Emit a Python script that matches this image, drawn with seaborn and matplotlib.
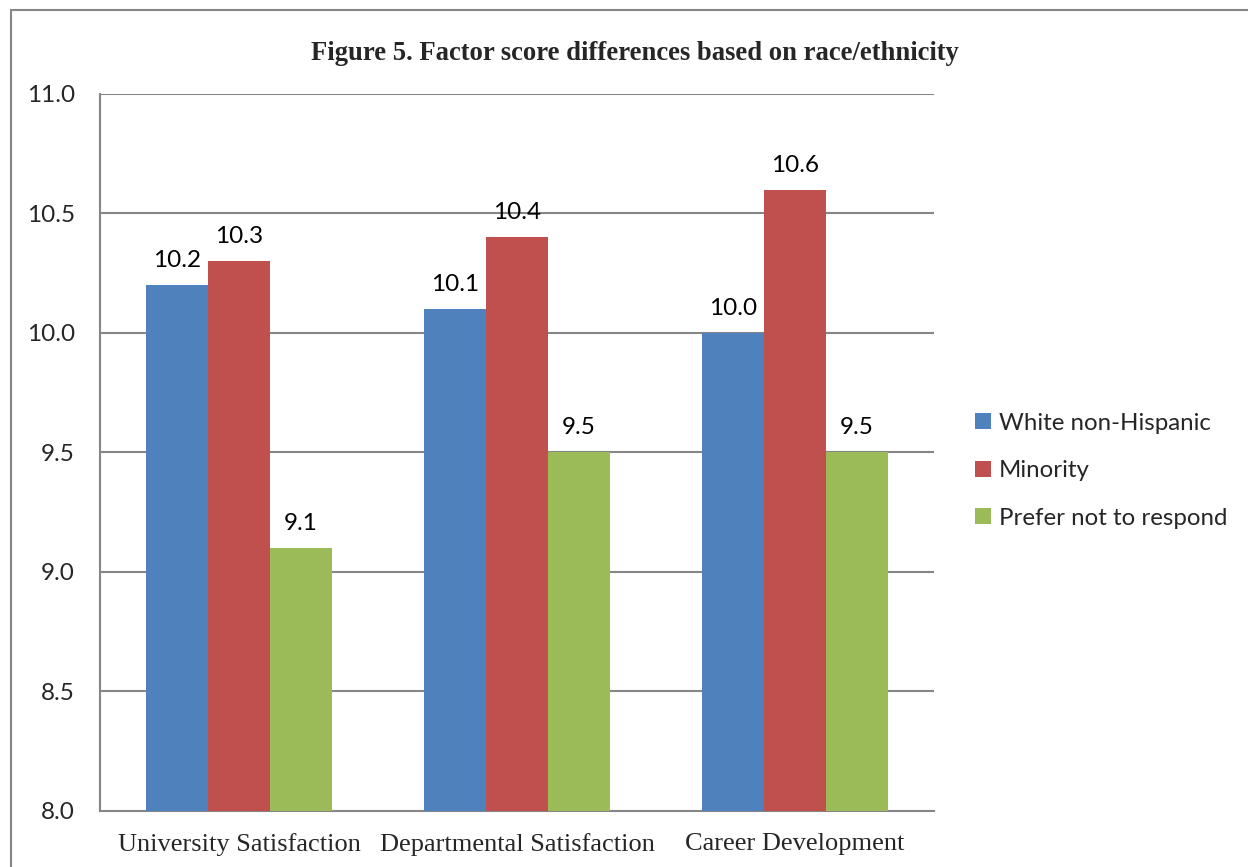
import matplotlib
matplotlib.use("Agg")
import matplotlib.pyplot as plt
import seaborn as sns
import pandas as pd
from matplotlib.lines import Line2D
from matplotlib.patches import Patch

categories = ["University Satisfaction", "Departmental Satisfaction", "Career Development"]
groups = ["White non-Hispanic", "Minority", "Prefer not to respond"]
white_values = [10.2, 10.1, 10.0]
minority_values = [10.3, 10.4, 10.6]
prefer_values = [9.1, 9.5, 9.5]
y_ticks = [8.0, 8.5, 9.0, 9.5, 10.0, 10.5, 11.0]
colors = ["#4F81BD", "#C0504D", "#9BBB59"]

rows = []
for grp, vals in zip(groups, [white_values, minority_values, prefer_values]):
    for cat, v in zip(categories, vals):
        rows.append({"Factor": cat, "Group": grp, "Score": v})
df = pd.DataFrame(rows)

sns.set_theme(style="white")
sans = ["Lato", "DejaVu Sans"]
serif = ["Liberation Serif", "DejaVu Serif"]

fig = plt.figure(figsize=(12.48, 8.67), dpi=100)
ax = fig.add_axes([0.0801, 0.0646, 0.6683, 0.8270])

sns.barplot(data=df, x="Factor", y="Score", hue="Group", order=categories,
            hue_order=groups, palette=colors, width=0.666, gap=0,
            saturation=1, linewidth=0, ax=ax, legend=False, zorder=3)

# bars start from the 8.0 baseline
for patch in ax.patches:
    h = patch.get_height()
    patch.set_y(8.0)
    patch.set_height(h - 8.0)

ax.set_ylim(8.0, 11.0)
ax.set_xlim(-0.5, 2.5)
ax.set_yticks(y_ticks)
ax.set_yticklabels([f"{t:.1f}" for t in y_ticks], fontfamily=sans, fontsize=17.5)
ax.set_xticks(range(len(categories)))
ax.set_xticklabels(categories, fontfamily=serif, fontsize=19)
ax.tick_params(axis="y", length=0, pad=18)
ax.tick_params(axis="x", length=0, pad=16)
ax.set_xlabel("")
ax.set_ylabel("")

for y in y_ticks[1:]:
    ax.axhline(y, color="#868686", linewidth=1.5, zorder=1)

for side in ["top", "right"]:
    ax.spines[side].set_visible(False)
ax.spines["left"].set_color("#868686")
ax.spines["left"].set_linewidth(1.5)
ax.spines["bottom"].set_color("#868686")
ax.spines["bottom"].set_linewidth(1.5)

# value labels above each bar
for patch in ax.patches:
    top = patch.get_y() + patch.get_height()
    if patch.get_width() == 0:
        continue
    ax.annotate(f"{top:.1f}", (patch.get_x() + patch.get_width() / 2, top),
                xytext=(0, 14), textcoords="offset pixels", ha="center", va="bottom",
                fontfamily=sans, fontsize=17.5, color="black")

fig.text(0.509, 0.938, "Figure 5. Factor score differences based on race/ethnicity",
         ha="center", va="center", fontfamily=serif, fontweight="bold", fontsize=19.2)

handles = [Patch(facecolor=c, edgecolor="none") for c in colors]
fig.legend(handles, groups, loc="center left", bbox_to_anchor=(0.764, 0.457),
           frameon=False, prop={"family": sans, "size": 17.3},
           handlelength=0.65, handleheight=0.65, handletextpad=0.35, labelspacing=1.1)

# outer chart frame
fig.add_artist(Line2D([11 / 1248, 11 / 1248], [0, 1 - 10 / 867], transform=fig.transFigure,
                      color="#868686", linewidth=1.5))
fig.add_artist(Line2D([11 / 1248, 1], [1 - 10 / 867, 1 - 10 / 867], transform=fig.transFigure,
                      color="#868686", linewidth=1.5))

fig.savefig("out.png", dpi=100)
